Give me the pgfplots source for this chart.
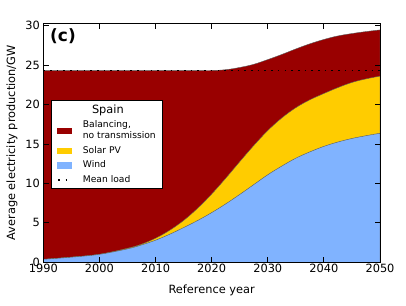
\documentclass[border=0pt]{standalone}
\usepackage{fontspec}
\setmainfont{DejaVu Sans}
\usepackage{pgfplots}
\pgfplotsset{compat=1.18}
\definecolor{balred}{RGB}{153,0,0}
\definecolor{solyel}{RGB}{255,204,0}
\definecolor{windblue}{RGB}{128,179,255}
\definecolor{edgegray}{RGB}{90,90,90}
\begin{document}
\begin{tikzpicture}
\begin{axis}[
  scale only axis,
  width=336.7bp, height=239bp,
  xmin=1990, xmax=2050, ymin=0, ymax=30.3,
  xtick={1990,2000,...,2050},
  ytick={0,5,...,30},
  tick pos=both,
  tick align=inside,
  major tick length=5.5bp,
  axis on top,
  axis line style={line width=1bp},
  every tick/.style={black, line width=0.8bp},
  /pgf/number format/1000 sep={},
  /pgf/number format/assume math mode=true,
  tick label style={font=\fontsize{11.4}{13.7}\selectfont},
  xticklabel style={yshift=1.5bp},
  label style={font=\fontsize{11.4}{13.7}\selectfont},
  xlabel={Reference year},
  ylabel={Average electricity production/GW},
  xlabel style={at={(axis description cs:0.5,-0.116)}, anchor=center},
  ylabel style={at={(axis description cs:-0.093,0.5)}, anchor=center},
  legend style={at={(axis description cs:0.022,0.679)}, anchor=north west,
    font=\fontsize{9.2}{11}\selectfont, draw=black, line width=0.8bp,
    cells={anchor=west, align=left}, row sep=2.2bp, column sep=9bp,
    inner ysep=2bp, inner xsep=5bp},
  legend cell align=left,
  smooth, tension=0.6,
]
\addlegendimage{empty legend}
\addlegendentry{\makebox[50bp][c]{\fontsize{11.4}{13.7}\selectfont Spain}}
% total (balancing top)
\addplot[fill=balred, draw=edgegray, line width=0.4bp,
  legend image code/.code={\fill[balred] (1bp,-2.6bp) rectangle (15bp,2.6bp);}]
 coordinates {(1990,24.3) (2000,24.3) (2010,24.3) (2015,24.3) (2020,24.32) (2022.5,24.42) (2025,24.7) (2027.5,25.1) (2030,25.7) (2032.5,26.35) (2035,27.05) (2037.5,27.7) (2040,28.25) (2042.5,28.7) (2045,29.0) (2047.5,29.25) (2050,29.46)} \closedcycle;
\addlegendentry{Balancing,\\no transmission}
% wind + solar
\addplot[fill=solyel, draw=edgegray, line width=0.4bp,
  legend image code/.code={\fill[solyel] (1bp,-2.6bp) rectangle (15bp,2.6bp);}]
 coordinates {(1990,0.38) (1995,0.66) (2000,1.02) (2005,1.78) (2007.5,2.3) (2010,3.05) (2012.5,4.05) (2015,5.3) (2017.5,6.85) (2020,8.65) (2022.5,10.65) (2025,12.75) (2027.5,14.8) (2030,16.7) (2032.5,18.3) (2035,19.6) (2037.5,20.6) (2040,21.4) (2042.5,22.15) (2045,22.8) (2047.5,23.25) (2050,23.6)} \closedcycle;
\addlegendentry{Solar PV}
% wind
\addplot[fill=windblue, draw=edgegray, line width=0.4bp,
  legend image code/.code={\fill[windblue] (1bp,-2.6bp) rectangle (15bp,2.6bp);}]
 coordinates {(1990,0.38) (1995,0.65) (2000,1.01) (2005,1.7) (2007.5,2.2) (2010,2.8) (2012.5,3.55) (2015,4.4) (2017.5,5.3) (2020,6.3) (2022.5,7.4) (2025,8.6) (2027.5,9.85) (2030,11.1) (2032.5,12.2) (2035,13.2) (2037.5,14.0) (2040,14.7) (2042.5,15.25) (2045,15.7) (2047.5,16.05) (2050,16.36)} \closedcycle;
\addlegendentry{Wind}
% mean load
\addplot[black, line width=1.6bp, dash pattern=on 1.6bp off 5.1bp, sharp plot,
  legend image code/.code={\draw[black, line width=1.6bp, dash pattern=on 1.6bp off 6bp] (2bp,0) -- (15bp,0);}]
 coordinates {(1990,24.3) (2050,24.3)};
\addlegendentry{Mean load}
\node[anchor=west, font=\bfseries\fontsize{17}{20}\selectfont, inner sep=0pt] at (axis description cs:0.02,0.944) {(c)};
\end{axis}
\pgfresetboundingbox
\path (current axis.south west) ++(-43.3bp,-42.7bp) coordinate (bbA);
\path (current axis.north east) ++(26bp,23.3bp) coordinate (bbB);
\path[use as bounding box] (bbA) rectangle (bbB);
\end{tikzpicture}
\end{document}
